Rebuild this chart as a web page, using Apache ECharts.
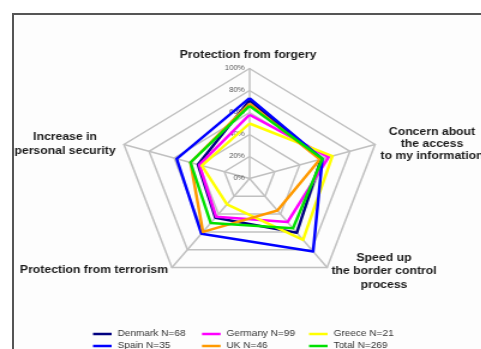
<!DOCTYPE html>
<html>
<head>
<meta charset="utf-8">
<script src="https://cdn.jsdelivr.net/npm/echarts@6/dist/echarts.min.js"></script>
<style>
  html, body { margin: 0; padding: 0; background: #ffffff; overflow: hidden; }
  #frame {
    position: absolute; left: 12px; top: 13px; width: 480px; height: 350px;
    border-left: 2px solid #555555; border-top: 2px solid #555555;
    background: #fdfdfd;
  }
  /* the plot is laid out at 401px and widened to the full 481px */
  #chart {
    position: absolute; left: 0; top: 0; width: 401px; height: 349px;
    transform: scaleX(1.2); transform-origin: 0 0;
  }
</style>
</head>
<body>
<div id="frame"></div>
<div id="chart"></div>
<script>
// Categories, clockwise from the top
const categories = [
  'Protection from forgery',
  'Concern about\nthe access\nto my information',
  'Speed up\nthe border control\nprocess',
  'Protection from terrorism',
  'Increase in\npersonal security'
];
const countries = ['Denmark', 'Germany', 'Greece', 'Spain', 'UK', 'Total'];
const sampleSizes = [68, 99, 21, 35, 46, 269];
const colors = ['#000080', '#ff00ff', '#ffff00', '#0000ff', '#ff9900', '#00e000'];
const tickValues = [0, 20, 40, 60, 80, 100];

// Share (%) per category, same order as categories
const denmark = [71, 57, 61, 44, 41];
const germany = [58, 63, 49, 43, 40];
const greece  = [50, 66, 69, 29, 38];
const spain   = [73, 58, 82, 62, 58];
const uk      = [68, 56, 36, 60, 47];
const total   = [66, 58, 56, 50, 47];
const seriesValues = [denmark, germany, greece, spain, uk, total];

// ECharts places indicators counter-clockwise; reorder so they read clockwise
const order = [0, 4, 3, 2, 1];

const chart = echarts.init(document.getElementById('chart'), null, { renderer: 'canvas' });

const names = countries.map((c, i) => c + ' N=' + sampleSizes[i]);
const cx = 207.9, cy = 178.5, R = 110;

const indicator = order.map((k, j) => {
  const ind = { name: categories[k], min: 0, max: 100 };
  if (j === 0) {
    ind.axisLabel = {
      show: true,
      showMinLabel: true,
      showMaxLabel: true,
      formatter: v => (tickValues.indexOf(v) >= 0 ? v + '%' : ''),
      fontSize: 6.5,
      fontFamily: 'Liberation Sans',
      color: '#555555',
      margin: 4
    };
  }
  return ind;
});

// category names around the web
const namePos = [
  { x: 206.7, y: 55.5, lh: 12 },
  { x: 360, y: 144, lh: 12 },
  { x: 320, y: 271.5, lh: 13.5 },
  { x: 78.3, y: 270.5, lh: 12 },
  { x: 54.2, y: 143.7, lh: 14 }
];
const nameText = categories.map((t, i) => ({
  type: 'text',
  x: namePos[i].x,
  y: namePos[i].y,
  style: {
    text: t,
    font: 'bold 10.2px "Liberation Sans", Arial, sans-serif',
    fill: '#1a1a1a',
    textAlign: 'center',
    textVerticalAlign: 'middle',
    lineHeight: namePos[i].lh
  }
}));

const legendCols = [77.5, 168.3, 257.5];
const legendRows = [330, 342];
const legends = names.map((n, i) => ({
  data: [n],
  left: legendCols[i % 3],
  top: legendRows[Math.floor(i / 3)],
  icon: 'rect',
  itemWidth: 15.5,
  itemHeight: 2.5,
  padding: 0,
  selectedMode: false,
  textStyle: { fontSize: 8.4, color: '#333333', fontFamily: 'Liberation Sans' }
}));

chart.setOption({
  animation: false,
  backgroundColor: 'transparent',
  legend: legends,
  graphic: nameText,
  radar: {
    center: [cx, cy],
    radius: R,
    startAngle: 90,
    shape: 'polygon',
    splitNumber: 5,
    indicator: indicator,
    axisName: { show: false },
    axisLabel: { show: false },
    axisTick: { show: false },
    axisLine: { lineStyle: { color: '#c0c0c0', width: 1.5 } },
    splitLine: { lineStyle: { color: '#c0c0c0', width: 1.5 } },
    splitArea: { show: false }
  },
  series: [{
    type: 'radar',
    symbol: 'none',
    data: seriesValues.map((vals, i) => ({
      name: names[i],
      value: order.map(k => vals[k]),
      itemStyle: { color: colors[i] },
      lineStyle: { color: colors[i], width: 2.5 }
    }))
  }]
});
</script>
</body>
</html>
